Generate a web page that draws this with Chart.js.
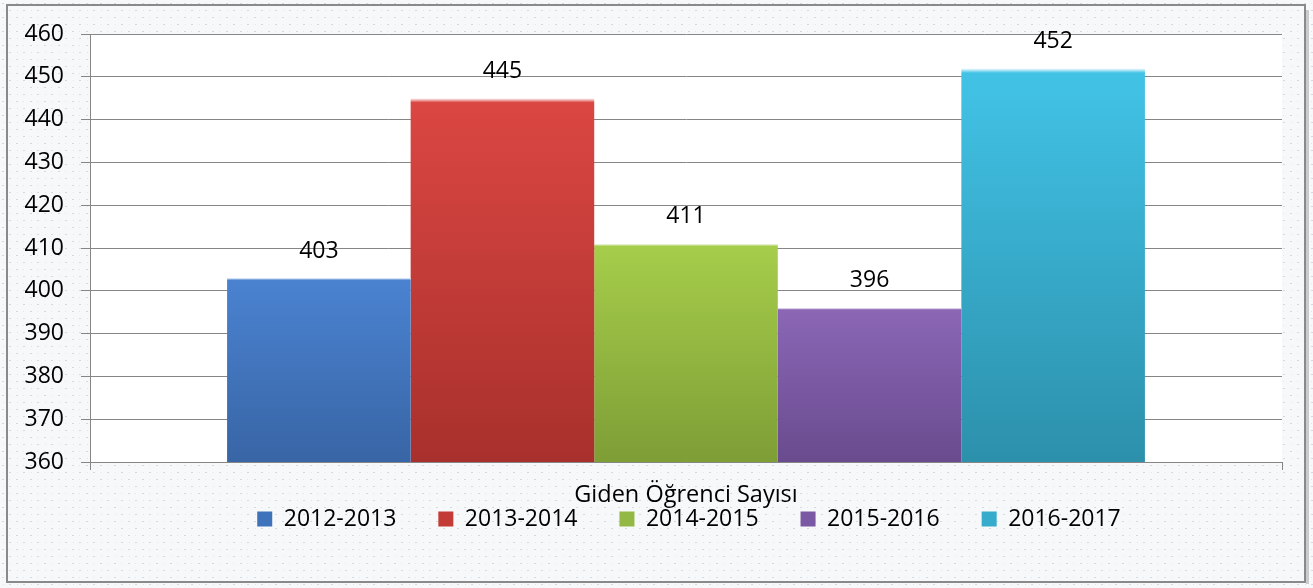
<!DOCTYPE html>
<html>
<head>
<meta charset="utf-8">
<script src="https://cdn.jsdelivr.net/npm/chart.js@4/dist/chart.umd.min.js"></script>
<style>
  html, body { margin: 0; padding: 0; background: #ffffff; }
  #wrap { position: relative; width: 1313px; height: 588px; }
</style>
</head>
<body>
<div id="wrap"><canvas id="c"></canvas></div>
<script>
// ---- data ----
const categories = ['Giden Öğrenci Sayısı'];
const seriesLabels = ['2012-2013', '2013-2014', '2014-2015', '2015-2016', '2016-2017'];
const values = [403, 445, 411, 396, 452];
const yMin = 360;
const yMax = 460;
const yStep = 10;

// ---- styles ----
const topColors = ['#4a82d0', '#da4642', '#a5cc4a', '#8a66b5', '#41c2e5'];
const bottomColors = ['#3865a5', '#a8302c', '#7e9e36', '#694b8e', '#2c90ab'];
const legendColors = ['#3e73bb', '#c33b37', '#93b843', '#7a58a3', '#36abcb'];
const FONT = "'Open Sans', 'DejaVu Sans', sans-serif";
const FS = 23;

function barGradient(i) {
  return function (ctx) {
    const chart = ctx.chart;
    const ca = chart.chartArea;
    if (!ca || ctx.parsed === undefined) return legendColors[i];
    const yTop = chart.scales.y.getPixelForValue(ctx.parsed.y);
    const g = chart.ctx.createLinearGradient(0, yTop, 0, ca.bottom);
    g.addColorStop(0, '#ffffff');
    g.addColorStop(0.012, topColors[i]);
    g.addColorStop(0.03, topColors[i]);
    g.addColorStop(1, bottomColors[i]);
    return g;
  };
}

const datasets = seriesLabels.map((lab, i) => ({
  label: lab,
  data: [values[i]],
  backgroundColor: barGradient(i),
  borderWidth: 0,
  categoryPercentage: 0.77,
  barPercentage: 1.0
}));

// pattern background
function makePattern(ctx) {
  const p = document.createElement('canvas');
  p.width = 14; p.height = 14;
  const c = p.getContext('2d');
  c.fillStyle = '#f6f8f9';
  c.fillRect(0, 0, 14, 14);
  c.fillStyle = '#d3d9de';
  c.fillRect(2, 3, 2, 1);
  c.fillRect(9, 10, 2, 1);
  c.fillStyle = '#e2e6ea';
  c.fillRect(9, 3, 1, 1);
  c.fillRect(3, 10, 1, 1);
  return ctx.createPattern(p, 'repeat');
}

const bgPlugin = {
  id: 'bgPlugin',
  beforeDraw(chart) {
    const ctx = chart.ctx;
    const ca = chart.chartArea;
    ctx.save();
    ctx.fillStyle = makePattern(ctx);
    ctx.fillRect(0, 0, chart.width, chart.height);
    ctx.fillStyle = '#ffffff';
    ctx.fillRect(ca.left, ca.top, ca.right - ca.left, ca.bottom - ca.top);
    // frame
    ctx.strokeStyle = '#8a8a8a';
    ctx.lineWidth = 2;
    ctx.strokeRect(7, 5, 1298, 577);
    ctx.fillStyle = 'rgba(120,120,120,0.35)';
    ctx.fillRect(1306, 10, 3, 574);
    ctx.restore();
  }
};

const legendShift = {
  id: 'legendShift',
  afterLayout(chart) {
    const lg = chart.legend;
    if (!lg) return;
    const pad = lg.options.labels.padding;
    const dx = 48;
    lg.left += dx; lg.right += dx;
    const dy = 519 - (lg.top + pad + FS / 2);
    lg.top += dy; lg.bottom += dy;
  }
};

const valueLabels = {
  id: 'valueLabels',
  afterDatasetsDraw(chart) {
    const ctx = chart.ctx;
    ctx.save();
    ctx.font = FS + "px " + FONT;
    ctx.fillStyle = '#000000';
    ctx.textAlign = 'center';
    ctx.textBaseline = 'middle';
    chart.data.datasets.forEach((ds, i) => {
      const meta = chart.getDatasetMeta(i);
      meta.data.forEach((el, j) => {
        ctx.fillText(String(ds.data[j]), el.x, el.y - 27);
      });
    });
    ctx.restore();
  }
};

new Chart(document.getElementById('c'), {
  type: 'bar',
  data: { labels: categories, datasets: datasets },
  options: {
    responsive: true,
    maintainAspectRatio: false,
    animation: false,
    devicePixelRatio: 1,
    layout: { padding: { top: 34, left: 0, right: 31, bottom: 0 } },
    font: { family: FONT },
    scales: {
      x: {
        offset: true,
        grid: { display: true, drawOnChartArea: false, drawTicks: true, tickLength: 8, color: '#868686' },
        border: { display: true, color: '#868686' },
        ticks: { color: '#000000', font: { size: 23.5, family: FONT }, padding: 11 },
        afterFit(scale) {
          const lh = scale.chart.legend ? scale.chart.legend.height : 110;
          scale.height = scale.chart.height - 462 - lh;
        }
      },
      y: {
        min: yMin,
        max: yMax,
        ticks: { stepSize: yStep, color: '#000000', font: { size: FS, family: FONT }, padding: 17 },
        grid: { color: '#868686', tickLength: 9, lineWidth: 1 },
        border: { display: true, color: '#868686' },
        afterFit(scale) { scale.width = 90; }
      }
    },
    plugins: {
      tooltip: { enabled: false },
      legend: {
        display: true,
        position: 'bottom',
        labels: {
          color: '#000000',
          font: { size: FS, family: FONT },
          boxWidth: 15,
          boxHeight: 15,
          padding: 42,
          generateLabels(chart) {
            const items = Chart.defaults.plugins.legend.labels.generateLabels(chart);
            items.forEach((it, i) => {
              it.fillStyle = legendColors[i];
              it.strokeStyle = bottomColors[i];
              it.lineWidth = 0;
            });
            return items;
          }
        }
      }
    }
  },
  plugins: [bgPlugin, legendShift, valueLabels]
});
</script>
</body>
</html>
